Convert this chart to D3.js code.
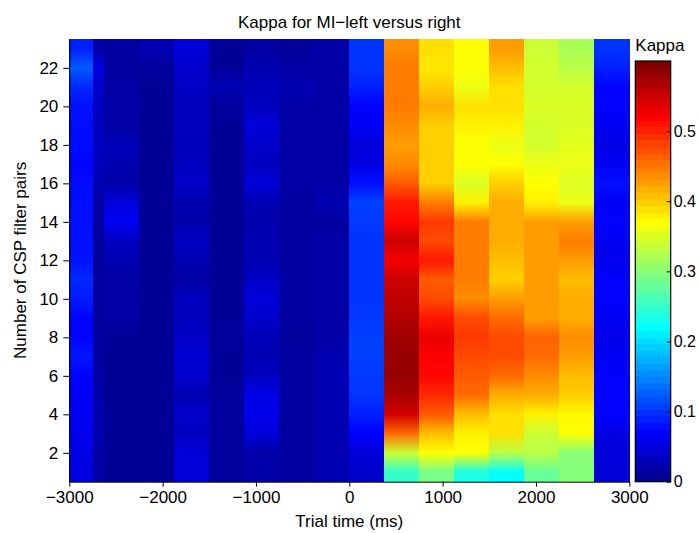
<!DOCTYPE html>
<head>
<meta charset="utf-8">
<script src="https://d3js.org/d3.v7.min.js"></script>
<style>
body {
  margin: 0;
  background: white;
  font-family: 'Liberation Sans', Arial, sans-serif;
}
.axis text {
  font-family: 'Liberation Sans', Arial, sans-serif;
  font-size: 17px;
  fill: black;
}
.axis path, .axis line {
  stroke: black;
}
.lbl {
  font-size: 17px;
  fill: black;
}
</style>
</head>
<body>
<div id="plotContainer"></div>
<script>

// time window edges (ms), one column of the image between two edges
var timeEdges = [-3000, -2750, -2625, -2250, -1875, -1500, -1125, -750, -375, 0,
                 375, 750, 1125, 1500, 1875, 2250, 2625, 3000];

// number of CSP filter pairs (rows)
var filterPairs = d3.range(1, 24);

var xTicks = [-3000, -2000, -1000, 0, 1000, 2000, 3000];
var yTicks = [2, 4, 6, 8, 10, 12, 14, 16, 18, 20, 22];
var cbarTicks = [0, 0.1, 0.2, 0.3, 0.4, 0.5];

// kappa per time window, values for 1..23 filter pairs
var kappa = [
  [0.050,0.052,0.058,0.060,0.062,0.067,0.080,0.068,0.068,0.082,0.090,0.078,0.075,0.075,0.074,0.074,0.067,0.074,0.074,0.075,0.090,0.120,0.085],
  [0.013,0.013,0.020,0.020,0.015,0.012,0.010,0.010,0.008,0.008,0.008,0.008,0.008,0.010,0.010,0.020,0.029,0.029,0.029,0.029,0.036,0.050,0.013],
  [0.006,0.006,0.006,0.006,0.006,0.006,0.006,0.006,0.012,0.013,0.013,0.021,0.030,0.060,0.045,0.015,0.020,0.025,0.013,0.015,0.012,0.010,0.010],
  [0.004,0.004,0.004,0.004,0.004,0.004,0.004,0.004,0.004,0.004,0.004,0.004,0.004,0.004,0.004,0.005,0.005,0.005,0.005,0.005,0.006,0.008,0.021],
  [0.044,0.044,0.029,0.036,0.021,0.036,0.040,0.033,0.029,0.029,0.013,0.021,0.033,0.017,0.021,0.036,0.029,0.025,0.029,0.029,0.033,0.036,0.044],
  [0.008,0.008,0.008,0.008,0.008,0.006,0.006,0.008,0.006,0.006,0.006,0.006,0.006,0.006,0.006,0.006,0.006,0.006,0.006,0.008,0.020,0.006,0.006],
  [0.015,0.015,0.045,0.055,0.052,0.030,0.021,0.025,0.036,0.044,0.033,0.021,0.021,0.017,0.021,0.044,0.029,0.036,0.044,0.029,0.025,0.021,0.010],
  [0.010,0.010,0.010,0.010,0.010,0.010,0.010,0.008,0.010,0.010,0.010,0.010,0.010,0.010,0.010,0.013,0.013,0.013,0.013,0.013,0.021,0.013,0.006],
  [0.021,0.021,0.021,0.021,0.021,0.021,0.021,0.013,0.013,0.013,0.013,0.013,0.013,0.010,0.021,0.013,0.013,0.013,0.013,0.013,0.013,0.013,0.013],
  [0.036,0.044,0.065,0.085,0.097,0.100,0.105,0.105,0.100,0.097,0.097,0.097,0.097,0.100,0.105,0.075,0.050,0.044,0.060,0.067,0.085,0.097,0.097],
  [0.250,0.340,0.460,0.550,0.575,0.585,0.585,0.580,0.570,0.560,0.555,0.530,0.555,0.520,0.510,0.470,0.440,0.430,0.440,0.450,0.450,0.450,0.440],
  [0.290,0.370,0.410,0.470,0.500,0.520,0.525,0.535,0.510,0.480,0.470,0.510,0.480,0.490,0.450,0.400,0.400,0.400,0.400,0.420,0.400,0.385,0.390],
  [0.235,0.370,0.380,0.410,0.460,0.470,0.480,0.490,0.480,0.440,0.450,0.450,0.450,0.450,0.380,0.350,0.370,0.370,0.380,0.390,0.360,0.370,0.370],
  [0.220,0.330,0.390,0.390,0.420,0.460,0.480,0.480,0.460,0.430,0.400,0.410,0.420,0.420,0.420,0.400,0.370,0.360,0.380,0.390,0.390,0.410,0.430],
  [0.280,0.330,0.340,0.380,0.420,0.440,0.460,0.465,0.430,0.430,0.430,0.430,0.430,0.430,0.380,0.370,0.360,0.345,0.345,0.350,0.345,0.345,0.340],
  [0.300,0.300,0.370,0.375,0.400,0.410,0.430,0.440,0.420,0.420,0.410,0.430,0.450,0.430,0.360,0.350,0.360,0.355,0.350,0.350,0.345,0.330,0.320],
  [0.044,0.044,0.050,0.067,0.067,0.067,0.060,0.055,0.060,0.067,0.067,0.055,0.060,0.067,0.060,0.075,0.060,0.051,0.060,0.067,0.067,0.085,0.097]
];

var cmax = 0.6;

var W = 699, H = 533;
var plot = {left: 69.3, right: 629.3, top: 39, bottom: 481.7};
var cbar = {left: 635.3, right: 670.7, top: 61, bottom: 481.7};

// matlab jet(64)
function jetTable(m) {
  var n = Math.ceil(m / 4);
  var u = [];
  for (var i = 1; i <= n; i++) u.push(i / n);
  for (var i = 0; i < n - 1; i++) u.push(1);
  for (var i = n; i >= 1; i--) u.push(i / n);
  var g0 = Math.ceil(n / 2) - (m % 4 == 1 ? 1 : 0);
  var table = d3.range(m).map(function() { return [0, 0, 0]; });
  u.forEach(function(v, j) {
    var g = g0 + j + 1, r = g + n, b = g - n;
    if (r >= 1 && r <= m) table[r - 1][0] = v;
    if (g >= 1 && g <= m) table[g - 1][1] = v;
    if (b >= 1 && b <= m) table[b - 1][2] = v;
  });
  return table.map(function(c) { return d3.rgb(c[0] * 255, c[1] * 255, c[2] * 255); });
}
var jet = jetTable(64);

var color = d3.scaleLinear()
    .domain(d3.range(64).map(function(i) { return i / 63 * cmax; }))
    .range(jet.map(String))
    .interpolate(d3.interpolateRgb)
    .clamp(true);

var x = d3.scaleLinear().domain([-3000, 3000]).range([plot.left, plot.right]);
var y = d3.scaleLinear().domain([0.5, 23.5]).range([plot.bottom, plot.top]);
var yc = d3.scaleLinear().domain([0, cmax]).range([cbar.bottom, cbar.top]);

var svg = d3.select("#plotContainer")
    .append("svg")
    .attr("width", W)
    .attr("height", H);

var defs = svg.append("defs");

// one column per time window, shaded smoothly between filter-pair rows
kappa.forEach(function(col, i) {
  var grad = defs.append("linearGradient")
      .attr("id", "col" + i)
      .attr("gradientUnits", "userSpaceOnUse")
      .attr("x1", 0).attr("x2", 0)
      .attr("y1", y(23.5)).attr("y2", y(0.5));
  filterPairs.slice().reverse().forEach(function(p) {
    grad.append("stop")
        .attr("offset", (y(p) - y(23.5)) / (y(0.5) - y(23.5)))
        .attr("stop-color", color(col[p - 1]));
  });
});

svg.append("g")
  .selectAll("rect")
  .data(kappa)
  .enter()
  .append("rect")
    .attr("x", function(d, i) { return x(timeEdges[i]); })
    .attr("width", function(d, i) { return x(timeEdges[i + 1]) - x(timeEdges[i]) + 0.3; })
    .attr("y", y(23.5))
    .attr("height", y(0.5) - y(23.5))
    .attr("fill", function(d, i) { return "url(#col" + i + ")"; })
    .attr("shape-rendering", "crispEdges");

svg.append("g")
    .attr("class", "axis")
    .attr("transform", "translate(0," + plot.bottom + ")")
    .call(d3.axisBottom(x).tickValues(xTicks).tickFormat(d3.format("")).tickSize(5).tickSizeOuter(0).tickPadding(4))
    .call(function(g) { g.selectAll(".tick line").attr("stroke", "#555"); });

svg.append("g")
    .attr("class", "axis")
    .attr("transform", "translate(" + plot.left + ",0)")
    .call(d3.axisLeft(y).tickValues(yTicks).tickSize(6).tickSizeOuter(0).tickPadding(5))
    .call(function(g) { g.selectAll(".tick line").attr("stroke", "#555"); });

svg.append("text")
    .attr("class", "lbl")
    .attr("x", (plot.left + plot.right) / 2)
    .attr("y", 28)
    .attr("text-anchor", "middle")
    .text("Kappa for MI\u2212left versus right");

svg.append("text")
    .attr("class", "lbl")
    .attr("x", (plot.left + plot.right) / 2)
    .attr("y", 527)
    .attr("text-anchor", "middle")
    .text("Trial time (ms)");

svg.append("text")
    .attr("class", "lbl")
    .attr("transform", "translate(26," + ((plot.top + plot.bottom) / 2) + ") rotate(-90)")
    .attr("text-anchor", "middle")
    .text("Number of CSP filter pairs");

// colorbar
svg.append("g")
  .selectAll("rect")
  .data(jet)
  .enter()
  .append("rect")
    .attr("x", cbar.left)
    .attr("width", cbar.right - cbar.left)
    .attr("y", function(d, i) { return yc((i + 1) / 64 * cmax); })
    .attr("height", function(d, i) { return yc(i / 64 * cmax) - yc((i + 1) / 64 * cmax) + 0.5; })
    .attr("fill", function(d) { return d; })
    .attr("shape-rendering", "crispEdges");

svg.append("rect")
    .attr("x", cbar.left)
    .attr("y", cbar.top)
    .attr("width", cbar.right - cbar.left)
    .attr("height", cbar.bottom - cbar.top)
    .attr("fill", "none")
    .attr("stroke", "black")
    .attr("stroke-width", 1.2);

svg.append("g")
    .attr("class", "axis")
    .attr("transform", "translate(" + cbar.right + ",0)")
    .call(d3.axisRight(yc).tickValues(cbarTicks).tickFormat(d3.format("")).tickSize(-4).tickSizeOuter(0).tickPadding(3))
    .call(function(g) { g.select(".domain").remove(); g.selectAll("text").style("font-size", "16px"); });

svg.append("text")
    .attr("class", "lbl")
    .attr("x", cbar.left)
    .attr("y", 51)
    .text("Kappa");

</script>
</body>
